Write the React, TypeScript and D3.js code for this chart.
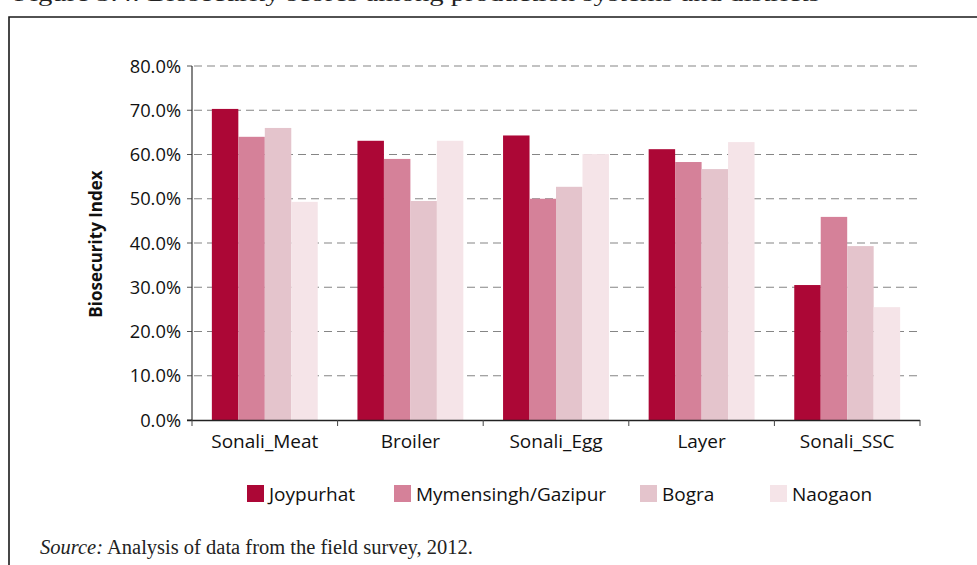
import React from "react";
import * as d3 from "d3";

const categories = ["Sonali_Meat", "Broiler", "Sonali_Egg", "Layer", "Sonali_SSC"];
const series = ["Joypurhat", "Mymensingh/Gazipur", "Bogra", "Naogaon"];
const joypurhat = [0.703, 0.631, 0.643, 0.612, 0.305];
const mymensingh = [0.640, 0.590, 0.500, 0.583, 0.459];
const bogra = [0.660, 0.495, 0.527, 0.567, 0.393];
const naogaon = [0.493, 0.631, 0.601, 0.628, 0.255];
const yTicks = [0, 0.1, 0.2, 0.3, 0.4, 0.5, 0.6, 0.7, 0.8];
const colors = ["#AC0736", "#D58199", "#E4C4CC", "#F5E4E8"];

const values = [joypurhat, mymensingh, bogra, naogaon];

const W = 977;
const H = 565;
const plot = { left: 192, right: 920, top: 66, bottom: 420 };
const legendX = [247, 394, 640, 770];
const FONT = "'Open Sans', Lato, sans-serif";

export default function App() {
  const x0 = d3.scaleBand<string>().domain(categories).range([plot.left, plot.right]).paddingInner(0).paddingOuter(0);
  const x1 = d3.scaleBand<string>().domain(series).range([0, x0.bandwidth()]).paddingInner(0).paddingOuter(0.75);
  const y = d3.scaleLinear().domain([0, 0.8]).range([plot.bottom, plot.top]);
  const fmt = d3.format(".1%");
  const boundaries = [...categories.map((c) => x0(c) as number), plot.right];

  return (
    <svg width={W} height={H} style={{ position: "absolute", left: 0, top: 0, background: "#fff" }}>
      <rect x={0} y={0} width={W} height={H} fill="#fff" />
      {/* cut-off caption at top */}
      <text x={14} y={1} fontFamily="'Liberation Serif', serif" fontSize={22} fill="#222" textLength={806} lengthAdjust="spacingAndGlyphs">
        Figure 5.4: Biosecurity scores among production systems and districts
      </text>
      {/* box */}
      <path d={`M9,${H} V17 H${W}`} fill="none" stroke="#1a1a1a" strokeWidth={1.6} />

      {/* grid lines */}
      {yTicks.slice(1).map((t) => (
        <line key={"g" + t} x1={plot.left + 2} x2={plot.right} y1={y(t)} y2={y(t)} stroke="#858585" strokeWidth={1.1} strokeDasharray="8,5" />
      ))}
      {/* y ticks and labels */}
      {yTicks.map((t) => (
        <g key={"t" + t}>
          <line x1={plot.left - 5} x2={plot.left} y1={y(t)} y2={y(t)} stroke="#555" strokeWidth={1} />
          <text x={181} y={y(t)} dy="0.36em" textAnchor="end" fontFamily={FONT} fontSize={18.3} fill="#111">
            {fmt(t)}
          </text>
        </g>
      ))}

      {/* bars */}
      {categories.map((c, ci) => (
        <g key={c} transform={`translate(${x0(c)},0)`}>
          {series.map((s, si) => (
            <rect key={s} x={x1(s)} y={y(values[si][ci])} width={x1.bandwidth()} height={plot.bottom - y(values[si][ci])} fill={colors[si]} />
          ))}
        </g>
      ))}

      {/* axes */}
      <line x1={plot.left} x2={plot.left} y1={plot.top} y2={plot.bottom} stroke="#333" strokeWidth={1.2} />
      <line x1={plot.left - 5} x2={plot.right} y1={plot.bottom + 0.5} y2={plot.bottom + 0.5} stroke="#222" strokeWidth={1.3} />
      {boundaries.map((b, i) => (
        <line key={"xb" + i} x1={b} x2={b} y1={plot.bottom} y2={plot.bottom + 6} stroke="#444" strokeWidth={1} />
      ))}
      {categories.map((c) => (
        <text key={"xl" + c} x={(x0(c) as number) + x0.bandwidth() / 2} y={448} textAnchor="middle" fontFamily={FONT} fontSize={19} fill="#111">
          {c}
        </text>
      ))}

      {/* y title */}
      <text transform={`translate(102,${(plot.top + plot.bottom) / 2 + 1}) rotate(-90)`} textAnchor="middle" fontFamily={FONT} fontWeight="bold" fontSize={17} fill="#111">
        Biosecurity Index
      </text>

      {/* legend */}
      {series.map((s, i) => (
        <g key={"lg" + s}>
          <rect x={legendX[i]} y={485} width={17} height={17} fill={colors[i]} />
          <text x={legendX[i] + 22} y={501} fontFamily={FONT} fontSize={19} fill="#111">
            {s}
          </text>
        </g>
      ))}

      {/* source */}
      <text x={40} y={554} fontFamily="'Liberation Serif', serif" fontSize={20.5} fill="#222">
        <tspan fontStyle="italic">Source:</tspan> Analysis of data from the field survey, 2012.
      </text>
    </svg>
  );
}
